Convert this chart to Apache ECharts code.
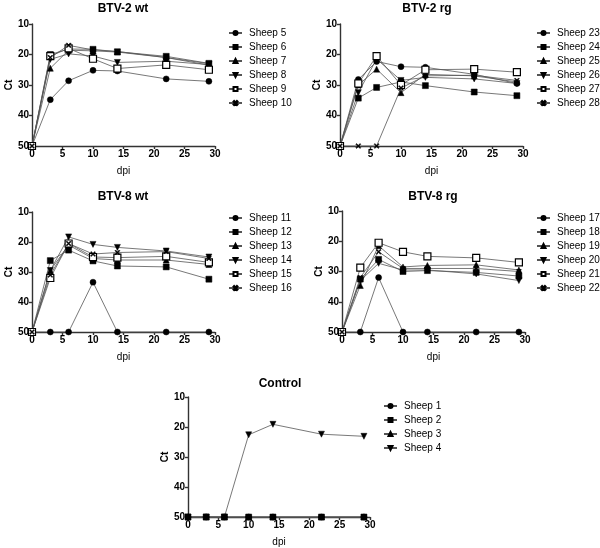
<!DOCTYPE html>
<html><head><meta charset="utf-8">
<script src="https://cdn.jsdelivr.net/npm/echarts@6/dist/echarts.min.js"></script>
<style>html,body{margin:0;padding:0;background:#fff}#c{width:600px;height:548px}</style>
</head><body><div id="c"></div>
<script>
const dpi = [0, 3, 6, 10, 14, 22, 29];
const xTicks = [0, 5, 10, 15, 20, 25, 30];
const yTicks = [10, 20, 30, 40, 50];
const panelTitles = ['BTV-2 wt', 'BTV-2 rg', 'BTV-8 wt', 'BTV-8 rg', 'Control'];

// BTV-2 wt
const sheep5  = [50, 34.8, 28.6, 25.2, 25.4, 28.0, 28.8];
const sheep6  = [50, 20.0, 18.2, 18.3, 19.1, 20.6, 22.9];
const sheep7  = [50, 24.5, 18.6, 18.8, 19.2, 21.0, 23.5];
const sheep8  = [50, 21.6, 19.8, 20.5, 22.6, 22.2, 23.3];
const sheep9  = [50, 20.5, 18.0, 21.4, 24.6, 23.4, 25.0];
const sheep10 = [50, 21.0, 17.0, 18.5, 19.0, 21.0, 23.0];
// BTV-2 rg
const sheep23 = [50, 28.2, 22.3, 24.0, 24.2, 26.5, 29.5];
const sheep24 = [50, 34.3, 30.8, 29.0, 30.2, 32.3, 33.5];
const sheep25 = [50, 30.0, 24.8, 32.5, 26.5, 27.0, 29.0];
const sheep26 = [50, 32.5, 21.5, 28.5, 27.5, 28.0, 29.5];
const sheep27 = [50, 29.5, 20.5, 30.0, 25.0, 24.8, 25.8];
const sheep28 = [50, 50, 50, 31.0, 27.0, 26.8, 28.5];
// BTV-8 wt
const sheep11 = [50, 50, 50, 33.4, 50, 50, 50];
const sheep12 = [50, 26.2, 22.7, 26.3, 28.0, 28.3, 32.4];
const sheep13 = [50, 29.5, 21.0, 25.5, 26.0, 26.0, 27.5];
const sheep14 = [50, 29.5, 18.3, 20.8, 21.8, 23.0, 25.0];
const sheep15 = [50, 32.0, 20.5, 25.0, 25.2, 24.8, 26.8];
const sheep16 = [50, 31.0, 20.5, 24.0, 23.5, 23.2, 25.5];
// BTV-8 rg
const sheep17 = [50, 50, 32.0, 50, 50, 50, 50];
const sheep18 = [50, 32.5, 26.0, 30.0, 29.7, 30.3, 31.5];
const sheep19 = [50, 34.6, 21.5, 28.5, 28.0, 27.8, 29.5];
const sheep20 = [50, 33.0, 27.3, 29.5, 29.5, 30.8, 33.0];
const sheep21 = [50, 28.7, 20.5, 23.5, 25.0, 25.5, 27.0];
const sheep22 = [50, 32.0, 23.5, 29.0, 29.0, 29.0, 30.0];
// Control
const sheep1 = [50, 50, 50, 50, 50, 50, 50];
const sheep2 = [50, 50, 50, 50, 50, 50, 50];
const sheep3 = [50, 50, 50, 50, 50, 50, 50];
const sheep4 = [50, 50, 50, 22.6, 19.1, 22.4, 23.1];

const panels = [
  [['Sheep 5', sheep5], ['Sheep 6', sheep6], ['Sheep 7', sheep7], ['Sheep 8', sheep8], ['Sheep 9', sheep9], ['Sheep 10', sheep10]],
  [['Sheep 23', sheep23], ['Sheep 24', sheep24], ['Sheep 25', sheep25], ['Sheep 26', sheep26], ['Sheep 27', sheep27], ['Sheep 28', sheep28]],
  [['Sheep 11', sheep11], ['Sheep 12', sheep12], ['Sheep 13', sheep13], ['Sheep 14', sheep14], ['Sheep 15', sheep15], ['Sheep 16', sheep16]],
  [['Sheep 17', sheep17], ['Sheep 18', sheep18], ['Sheep 19', sheep19], ['Sheep 20', sheep20], ['Sheep 21', sheep21], ['Sheep 22', sheep22]],
  [['Sheep 1', sheep1], ['Sheep 2', sheep2], ['Sheep 3', sheep3], ['Sheep 4', sheep4]]
];
// draw order for control so squares sit on top at 50
const controlOrder = [0, 2, 3, 1];

const FONT = 'Liberation Sans, Arial, sans-serif';
const TRI_DOWN = 'path://M0,0L10,0L5,9Z';
const CROSS = 'path://M0,1.5L1.5,0L5,3.5L8.5,0L10,1.5L6.5,5L10,8.5L8.5,10L5,6.5L1.5,10L0,8.5L3.5,5Z';
const markers = [
  {symbol: 'circle', size: 6, fill: '#000'},
  {symbol: 'rect', size: 6, fill: '#000'},
  {symbol: 'triangle', size: 6, fill: '#000'},
  {symbol: TRI_DOWN, size: 6, fill: '#000'},
  {symbol: 'rect', size: 7, fill: '#fff'},
  {symbol: CROSS, size: 5, fill: '#000'}
];

const layout = [
  {left: 32, top: 24, w: 183, h: 122, tx: 123, ty: 3, lx: 228, ly: 26},
  {left: 340, top: 24, w: 183, h: 122, tx: 427, ty: 3, lx: 536, ly: 26},
  {left: 32, top: 212, w: 183, h: 120, tx: 123, ty: 191, lx: 228, ly: 211},
  {left: 342, top: 211, w: 183, h: 121, tx: 433, ty: 191, lx: 536, ly: 211},
  {left: 188, top: 397, w: 182, h: 122, tx: 280, ty: 378, lx: 383, ly: 399}
];

const grid = [], xAxis = [], yAxis = [], title = [], legend = [], series = [];
layout.forEach((L, p) => {
  grid.push({left: L.left, top: L.top, width: L.w, height: L.h, containLabel: false});
  title.push({text: panelTitles[p], left: L.tx, top: L.ty, textAlign: 'center', padding: 0,
    textStyle: {fontFamily: FONT, fontSize: 12, fontWeight: 'bold', color: '#000'}});
  xAxis.push({gridIndex: p, type: 'value', min: xTicks[0], max: xTicks[xTicks.length - 1], interval: xTicks[1] - xTicks[0],
    name: 'dpi', nameLocation: 'middle', nameGap: 20,
    nameTextStyle: {fontFamily: FONT, fontSize: 10, color: '#000'},
    axisLine: {onZero: false, lineStyle: {color: '#333', width: 1.4}},
    axisTick: {show: true, length: 3, lineStyle: {color: '#333', width: 1.4}},
    axisLabel: {fontFamily: FONT, fontSize: 10, fontWeight: 'bold', color: '#000', margin: 3},
    splitLine: {show: false}});
  yAxis.push({gridIndex: p, type: 'value', inverse: true, min: yTicks[0], max: yTicks[yTicks.length - 1], interval: yTicks[1] - yTicks[0],
    name: 'Ct', nameLocation: 'middle', nameGap: 16, nameRotate: 90,
    nameTextStyle: {fontFamily: FONT, fontSize: 10, fontWeight: 'bold', color: '#000'},
    axisLine: {show: true, onZero: false, lineStyle: {color: '#333', width: 1.4}},
    axisTick: {show: true, length: 3, lineStyle: {color: '#333', width: 1.4}},
    axisLabel: {fontFamily: FONT, fontSize: 10, fontWeight: 'bold', color: '#000', margin: 3},
    splitLine: {show: false}});
  const items = panels[p];
  legend.push({orient: 'vertical', left: L.lx, top: L.ly, padding: 0, itemWidth: 13, itemHeight: 5, itemGap: 0,
    data: items.map(it => it[0]), selectedMode: false,
    textStyle: {fontFamily: FONT, fontSize: 10, color: '#000', lineHeight: 14, padding: [0, 0, 0, 2]}});
  const order = p === 4 ? controlOrder : items.map((_, i) => i);
  order.forEach(i => {
    const m = markers[i];
    series.push({
      name: items[i][0], type: 'line', xAxisIndex: p, yAxisIndex: p,
      data: dpi.map((x, k) => [x, items[i][1][k]]),
      symbol: m.symbol, symbolSize: m.size, showAllSymbol: true, clip: false,
      lineStyle: {color: '#555', width: 0.8},
      itemStyle: {color: m.fill, borderColor: '#000', borderWidth: m.fill === '#fff' ? 1.2 : 0.5, opacity: 1},
      emphasis: {disabled: true}, animation: false
    });
  });
});

const chart = echarts.init(document.getElementById('c'), null, {renderer: 'canvas'});
chart.setOption({backgroundColor: '#fff', animation: false, title, grid, xAxis, yAxis, legend, series});
</script></body></html>
